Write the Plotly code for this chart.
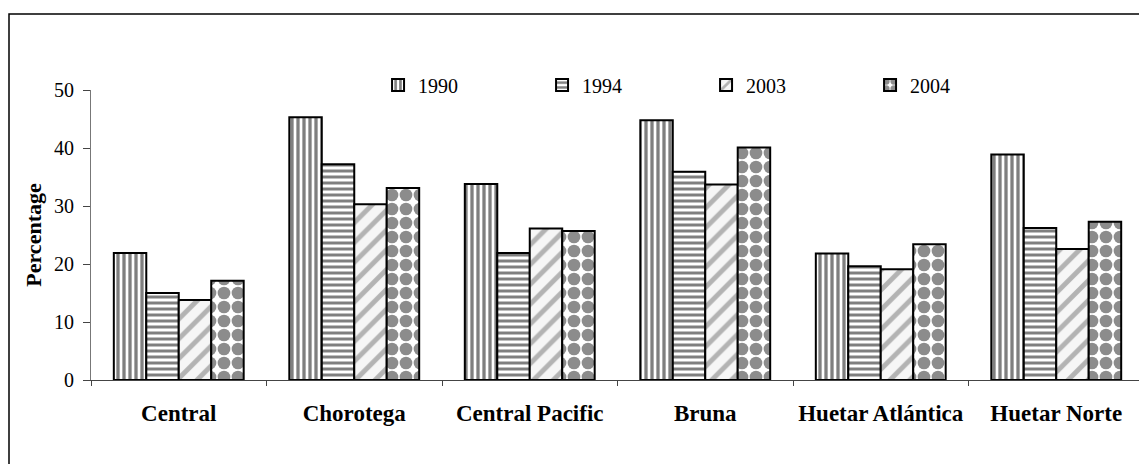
import plotly.graph_objects as go

regions = ["Central", "Chorotega", "Central Pacific", "Bruna", "Huetar Atlántica", "Huetar Norte"]
years = ["1990", "1994", "2003", "2004"]
v1990 = [21.9, 45.3, 33.8, 44.8, 21.8, 38.9]
v1994 = [15.0, 37.2, 21.9, 35.9, 19.6, 26.2]
v2003 = [13.8, 30.3, 26.1, 33.7, 19.1, 22.6]
v2004 = [17.1, 33.1, 25.7, 40.1, 23.4, 27.3]
yticks = [0, 10, 20, 30, 40, 50]

series = [v1990, v1994, v2003, v2004]
patterns = [
    dict(shape="|", fgcolor="#000000", bgcolor="#ffffff", size=6, solidity=0.55),
    dict(shape="-", fgcolor="#000000", bgcolor="#ffffff", size=6, solidity=0.5),
    dict(shape="/", fgcolor="#707070", bgcolor="#f6f6f6", size=14, solidity=0.35),
    dict(shape=".", fgcolor="#1a1a1a", bgcolor="#ffffff", size=14, solidity=0.65),
]

FONT = "Liberation Serif"

fig = go.Figure()
for name, vals, pat in zip(years, series, patterns):
    fig.add_trace(go.Bar(
        x=regions, y=vals, name=name,
        marker=dict(color="#ffffff", pattern=pat,
                    line=dict(color="black", width=2)),
    ))

# page body has an 8px margin, so the figure is shifted by 8px right and down
fig.update_layout(
    width=1139, height=456,
    margin=dict(l=83, r=3, t=82, b=84),
    paper_bgcolor="white", plot_bgcolor="white",
    barmode="group", bargap=0.26, bargroupgap=0,
    font=dict(family=FONT, size=20, color="black"),
    legend=dict(orientation="h", x=0.2726, y=1.017, xanchor="left", yanchor="middle",
                entrywidth=119, font=dict(family=FONT, size=20),
                bgcolor="rgba(0,0,0,0)", traceorder="normal"),
    showlegend=True,
    xaxis=dict(automargin=False, showline=True, linecolor="#444", linewidth=1, ticks="outside",
               tickson="boundaries", ticklen=5, tickcolor="#444",
               tickfont=dict(family=FONT, size=23, weight="bold"),
               ticklabelstandoff=12, showgrid=False),
    yaxis=dict(automargin=False, range=[0, 50], tickvals=yticks, showline=True, linecolor="#777",
               linewidth=1, ticks="outside", ticklen=7, tickcolor="#444",
               showgrid=False, zeroline=False, ticklabelstandoff=5,
               tickfont=dict(family=FONT, size=20),
               title=dict(text="<b>Percentage</b>", font=dict(family=FONT, size=22), standoff=6)),
    shapes=[dict(type="rect", xref="paper", yref="paper",
                 x0=(9 - 91) / 1053, x1=1.1, y0=-0.5, y1=(380 - 14) / 290,
                 line=dict(color="black", width=1.5), fillcolor="rgba(0,0,0,0)", layer="below")],
)

fig.write_html("out.html")
